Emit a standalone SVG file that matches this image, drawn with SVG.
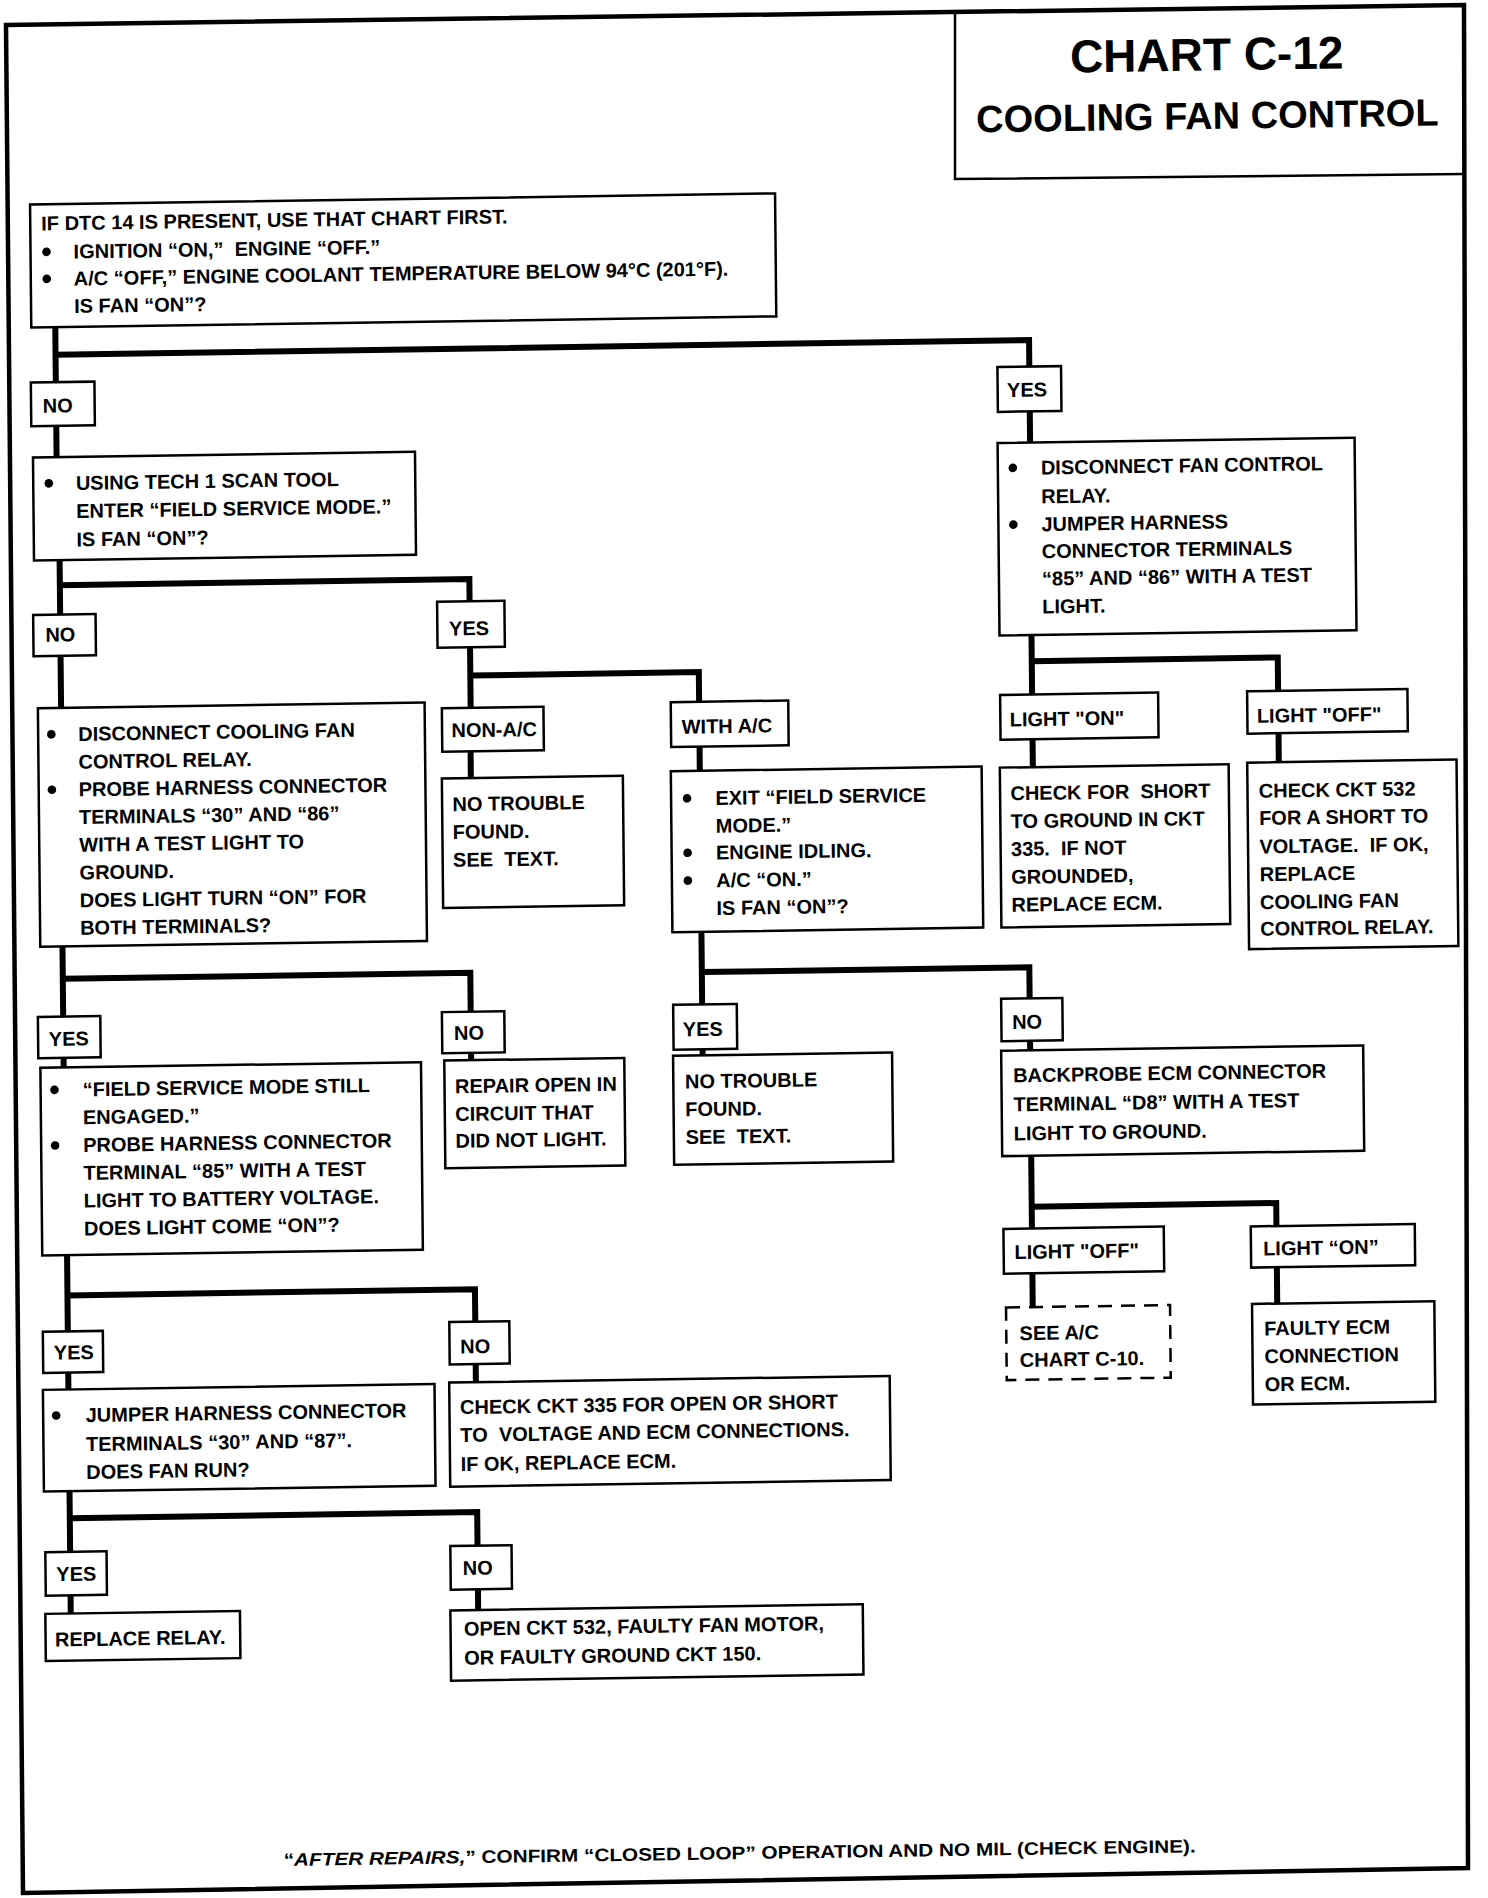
<svg xmlns="http://www.w3.org/2000/svg" width="1488" height="1898" viewBox="0 0 1488 1898">
<style>
.box{fill:#fff;stroke:#000;stroke-width:2.5}
.dash{fill:#fff;stroke:#000;stroke-width:2.5;stroke-dasharray:14 9}
.conn{fill:none;stroke:#000;stroke-width:6;stroke-linejoin:miter;stroke-linecap:butt}
.frame{fill:none;stroke:#000;stroke-width:4.5;stroke-linejoin:miter}
text{font-family:"Liberation Sans",Arial,sans-serif;font-weight:bold;font-size:20px;fill:#000}
.t1{font-size:46px}
.t2{font-size:38px}
.foot{font-size:18px}
</style>
<defs>
<circle id="b" r="4.3" fill="#000"/>
</defs>
<rect width="1488" height="1898" fill="#fff"/>
<g id="frame">
<polygon class="frame" points="6,25 1464,5 1468,1868 23,1893"/>
<polyline class="frame" style="stroke-width:2.5" points="955,12 955,179 1464,174"/>
</g>
<g transform="matrix(1 -0.015 0.01 1 0 0)">
<g id="title">
<text class="t1" x="1206" y="88.5" text-anchor="middle">CHART C-12</text>
<text class="t2" x="1206" y="147" text-anchor="middle">COOLING FAN CONTROL</text>
</g>
<g id="connectors">
<path class="conn" d="M52,328 V383 M52,355.5 H1025.5 V382"/>
<path class="conn" d="M52,426.6 V458"/>
<path class="conn" d="M1025.5,426.6 V458"/>
<path class="conn" d="M54,561 V615.4 M54,586 H463.5 V608.2"/>
<path class="conn" d="M54,656.6 V708.7"/>
<path class="conn" d="M463.5,654.2 V714.7 M463.5,682.5 H692 V712.2"/>
<path class="conn" d="M463,758.3 V785"/>
<path class="conn" d="M692,757 V781.2"/>
<path class="conn" d="M692,942.2 V1014.8 M692,982.5 H1019.5 V1013.7"/>
<path class="conn" d="M692,1059.6 V1065.7"/>
<path class="conn" d="M1019.5,1056 V1065.7"/>
<path class="conn" d="M1019.5,1171 V1243.8 M1019.5,1222 H1264 V1245"/>
<path class="conn" d="M1019.5,1288.6 V1322.4"/>
<path class="conn" d="M1264,1286.2 V1322.5"/>
<path class="conn" d="M1025,650.5 V709.8 M1025,676.5 H1271 V709.9"/>
<path class="conn" d="M1025,754.6 V782.5"/>
<path class="conn" d="M1271,752.3 V781.3"/>
<path class="conn" d="M53,947.2 V1017.4 M53,979.6 H460.5 V1018.6"/>
<path class="conn" d="M53,1058.6 V1068.3"/>
<path class="conn" d="M460.5,1059.8 V1067.1"/>
<path class="conn" d="M54.5,1255.9 V1332.2 M54.5,1296.2 H462 V1328.6"/>
<path class="conn" d="M54.5,1373.4 V1390.3"/>
<path class="conn" d="M462,1371 V1389.1"/>
<path class="conn" d="M54.6,1492 V1552.6 M54.6,1519 H462 V1552.6"/>
<path class="conn" d="M54.6,1596.2 V1614.3"/>
<path class="conn" d="M462,1596.2 V1617"/>
</g>
<g id="n_start">
<rect class="box" x="28" y="205" width="745" height="123"/>
<text x="39" y="231">IF DTC 14 IS PRESENT, USE THAT CHART FIRST.</text>
<use href="#b" x="44" y="252.5"/>
<text x="71" y="259.5" xml:space="preserve">IGNITION “ON,”  ENGINE “OFF.”</text>
<use href="#b" x="44" y="279.5"/>
<text x="71" y="286.5">A/C “OFF,” ENGINE COOLANT TEMPERATURE BELOW 94°C (201°F).</text>
<text x="71" y="314">IS FAN “ON”?</text>
</g>
<g id="n_no1">
<rect class="box" x="27" y="383" width="63.6" height="43.6"/>
<text x="38.7" y="413.4">NO</text>
</g>
<g id="n_yes1">
<rect class="box" x="993.6" y="382" width="63.6" height="44.8"/>
<text x="1003" y="412">YES</text>
</g>
<g id="n_discfan">
<rect class="box" x="993" y="458" width="357" height="192.5"/>
<use href="#b" x="1008" y="483"/>
<text x="1036" y="490">DISCONNECT FAN CONTROL</text>
<text x="1036" y="518.9">RELAY.</text>
<use href="#b" x="1008" y="539.7"/>
<text x="1036" y="546.7">JUMPER HARNESS</text>
<text x="1036" y="573.8">CONNECTOR TERMINALS</text>
<text x="1036" y="601.2">“85” AND “86” WITH A TEST</text>
<text x="1036" y="629">LIGHT.</text>
</g>
<g id="n_using">
<rect class="box" x="28.4" y="458" width="382" height="103"/>
<use href="#b" x="44" y="484"/>
<text x="71" y="491">USING TECH 1 SCAN TOOL</text>
<text x="71" y="519">ENTER “FIELD SERVICE MODE.”</text>
<text x="71" y="547.5">IS FAN “ON”?</text>
</g>
<g id="n_no2">
<rect class="box" x="27" y="615.4" width="62.4" height="41.2"/>
<text x="39" y="642.3">NO</text>
</g>
<g id="n_yes2">
<rect class="box" x="431" y="608.2" width="67.3" height="46"/>
<text x="442.7" y="642.2">YES</text>
</g>
<g id="n_disccool">
<rect class="box" x="30.8" y="708.7" width="386.7" height="238.5"/>
<use href="#b" x="44" y="735"/>
<text x="70.8" y="742">DISCONNECT COOLING FAN</text>
<text x="70.8" y="769.7">CONTROL RELAY.</text>
<use href="#b" x="44" y="790.4"/>
<text x="70.8" y="797.4">PROBE HARNESS CONNECTOR</text>
<text x="70.8" y="825.1">TERMINALS “30” AND “86”</text>
<text x="70.8" y="852.8">WITH A TEST LIGHT TO</text>
<text x="70.8" y="880.5">GROUND.</text>
<text x="70.8" y="908.2">DOES LIGHT TURN “ON” FOR</text>
<text x="70.8" y="935.9">BOTH TERMINALS?</text>
</g>
<g id="n_nonac">
<rect class="box" x="434.7" y="714.7" width="101.6" height="43.6"/>
<text x="444" y="744">NON-A/C</text>
</g>
<g id="n_withac">
<rect class="box" x="663.6" y="712.2" width="117.5" height="44.8"/>
<text x="674.3" y="743.8">WITH A/C</text>
</g>
<g id="n_ntf1">
<rect class="box" x="434" y="785" width="181" height="129.5"/>
<text x="444.4" y="817.8">NO TROUBLE</text>
<text x="444.4" y="845.7">FOUND.</text>
<text x="444.4" y="873.5" xml:space="preserve">SEE  TEXT.</text>
</g>
<g id="n_exit">
<rect class="box" x="663" y="781.2" width="310.8" height="161"/>
<use href="#b" x="679" y="808.5"/>
<text x="707.3" y="815.5">EXIT “FIELD SERVICE</text>
<text x="707.3" y="843.3">MODE.”</text>
<use href="#b" x="679" y="863"/>
<text x="707.3" y="870">ENGINE IDLING.</text>
<use href="#b" x="679" y="890.8"/>
<text x="707.3" y="897.8">A/C “ON.”</text>
<text x="707.3" y="925.6">IS FAN “ON”?</text>
</g>
<g id="n_lighton1">
<rect class="box" x="993" y="709.8" width="158" height="44.8"/>
<text x="1002.3" y="741.5">LIGHT "ON"</text>
</g>
<g id="n_lightoff1">
<rect class="box" x="1240" y="709.9" width="160.3" height="42.4"/>
<text x="1249.5" y="741.6">LIGHT "OFF"</text>
</g>
<g id="n_checkshort">
<rect class="box" x="992" y="782.5" width="228.8" height="159.8"/>
<text x="1002.3" y="815.3" xml:space="preserve">CHECK FOR  SHORT</text>
<text x="1002.3" y="843.2">TO GROUND IN CKT</text>
<text x="1002.3" y="871" xml:space="preserve">335.  IF NOT</text>
<text x="1002.3" y="898.9">GROUNDED,</text>
<text x="1002.3" y="926.7">REPLACE ECM.</text>
</g>
<g id="n_ckt532">
<rect class="box" x="1239.4" y="781.3" width="209.3" height="186.4"/>
<text x="1250.7" y="816.6">CHECK CKT 532</text>
<text x="1250.7" y="843.8">FOR A SHORT TO</text>
<text x="1250.7" y="872.3" xml:space="preserve">VOLTAGE.  IF OK,</text>
<text x="1250.7" y="900.1">REPLACE</text>
<text x="1250.7" y="928">COOLING FAN</text>
<text x="1250.7" y="954.6">CONTROL RELAY.</text>
</g>
<g id="n_yes4">
<rect class="box" x="27.7" y="1017.4" width="62.4" height="41.2"/>
<text x="38.4" y="1046.6">YES</text>
</g>
<g id="n_no3">
<rect class="box" x="431.7" y="1018.6" width="62.4" height="41.2"/>
<text x="443.6" y="1046.6">NO</text>
</g>
<g id="n_yes3">
<rect class="box" x="663" y="1014.8" width="63.6" height="44.8"/>
<text x="672.4" y="1046.4">YES</text>
</g>
<g id="n_no4">
<rect class="box" x="991" y="1013.7" width="61.2" height="42.4"/>
<text x="1001.7" y="1044.1">NO</text>
</g>
<g id="n_field">
<rect class="box" x="29.7" y="1068.3" width="380.6" height="187.6"/>
<use href="#b" x="43.6" y="1090.5"/>
<text x="71.7" y="1097.5">“FIELD SERVICE MODE STILL</text>
<text x="71.7" y="1125.3">ENGAGED.”</text>
<use href="#b" x="43.6" y="1146.1"/>
<text x="71.7" y="1153.1">PROBE HARNESS CONNECTOR</text>
<text x="71.7" y="1180.9">TERMINAL “85” WITH A TEST</text>
<text x="71.7" y="1208.7">LIGHT TO BATTERY VOLTAGE.</text>
<text x="71.7" y="1236.5">DOES LIGHT COME “ON”?</text>
</g>
<g id="n_repair">
<rect class="box" x="433.6" y="1067.1" width="180" height="107.7"/>
<text x="444" y="1099.9">REPAIR OPEN IN</text>
<text x="444" y="1127.7">CIRCUIT THAT</text>
<text x="444" y="1154.4">DID NOT LIGHT.</text>
</g>
<g id="n_ntf2">
<rect class="box" x="662.4" y="1065.7" width="219" height="109"/>
<text x="674.1" y="1098.5">NO TROUBLE</text>
<text x="674.1" y="1126.4">FOUND.</text>
<text x="674.1" y="1154.2" xml:space="preserve">SEE  TEXT.</text>
</g>
<g id="n_backprobe">
<rect class="box" x="990.5" y="1065.7" width="362" height="105.3"/>
<text x="1002.2" y="1097.4">BACKPROBE ECM CONNECTOR</text>
<text x="1002.2" y="1126.4">TERMINAL “D8” WITH A TEST</text>
<text x="1002.2" y="1155.5">LIGHT TO GROUND.</text>
</g>
<g id="n_lightoff2">
<rect class="box" x="991" y="1243.8" width="160.3" height="44.8"/>
<text x="1001.8" y="1274.1">LIGHT "OFF"</text>
</g>
<g id="n_lighton2">
<rect class="box" x="1238.3" y="1245" width="164" height="41.2"/>
<text x="1250.4" y="1274.2">LIGHT “ON”</text>
</g>
<g id="n_seeac">
<rect class="dash" x="992.8" y="1322.4" width="164" height="72.6"/>
<text x="1006" y="1355.3">SEE A/C</text>
<text x="1006" y="1382">CHART C-10.</text>
</g>
<g id="n_faulty">
<rect class="box" x="1238.8" y="1322.5" width="182.3" height="100.5"/>
<text x="1250.7" y="1354.2">FAULTY ECM</text>
<text x="1250.7" y="1382">CONNECTION</text>
<text x="1250.7" y="1409.9">OR ECM.</text>
</g>
<g id="n_yes5">
<rect class="box" x="29.5" y="1332.2" width="60" height="41.2"/>
<text x="40.2" y="1360.2">YES</text>
</g>
<g id="n_no5">
<rect class="box" x="436" y="1328.6" width="60" height="42.4"/>
<text x="446.6" y="1360.2">NO</text>
</g>
<g id="n_jumper">
<rect class="box" x="29" y="1390.3" width="391.6" height="101.7"/>
<use href="#b" x="42" y="1416.1"/>
<text x="71.5" y="1423.1">JUMPER HARNESS CONNECTOR</text>
<text x="71.5" y="1452.2">TERMINALS “30” AND “87”.</text>
<text x="71.5" y="1480">DOES FAN RUN?</text>
</g>
<g id="n_ckt335">
<rect class="box" x="435.3" y="1389.1" width="440.5" height="104.1"/>
<text x="445.9" y="1420.8">CHECK CKT 335 FOR OPEN OR SHORT</text>
<text x="445.9" y="1448.6" xml:space="preserve">TO  VOLTAGE AND ECM CONNECTIONS.</text>
<text x="445.9" y="1477.7">IF OK, REPLACE ECM.</text>
</g>
<g id="n_yes6">
<rect class="box" x="29.8" y="1552.6" width="61.2" height="43.6"/>
<text x="40.5" y="1581.7">YES</text>
</g>
<g id="n_no6">
<rect class="box" x="434.8" y="1552.6" width="61.2" height="43.6"/>
<text x="446.9" y="1581.8">NO</text>
</g>
<g id="n_replace">
<rect class="box" x="29.2" y="1614.3" width="194.6" height="47.2"/>
<text x="38.6" y="1647.1">REPLACE RELAY.</text>
</g>
<g id="n_open532">
<rect class="box" x="434.2" y="1617" width="412.4" height="70.2"/>
<text x="447.5" y="1642.4">OPEN CKT 532, FAULTY FAN MOTOR,</text>
<text x="447.5" y="1671.4">OR FAULTY GROUND CKT 150.</text>
</g>
<g id="footer">
<text class="foot" x="265" y="1870" textLength="912" lengthAdjust="spacingAndGlyphs">“<tspan font-style="italic">AFTER REPAIRS,</tspan>” CONFIRM “CLOSED LOOP” OPERATION AND NO MIL (CHECK ENGINE).</text>
</g>
</g>
</svg>
